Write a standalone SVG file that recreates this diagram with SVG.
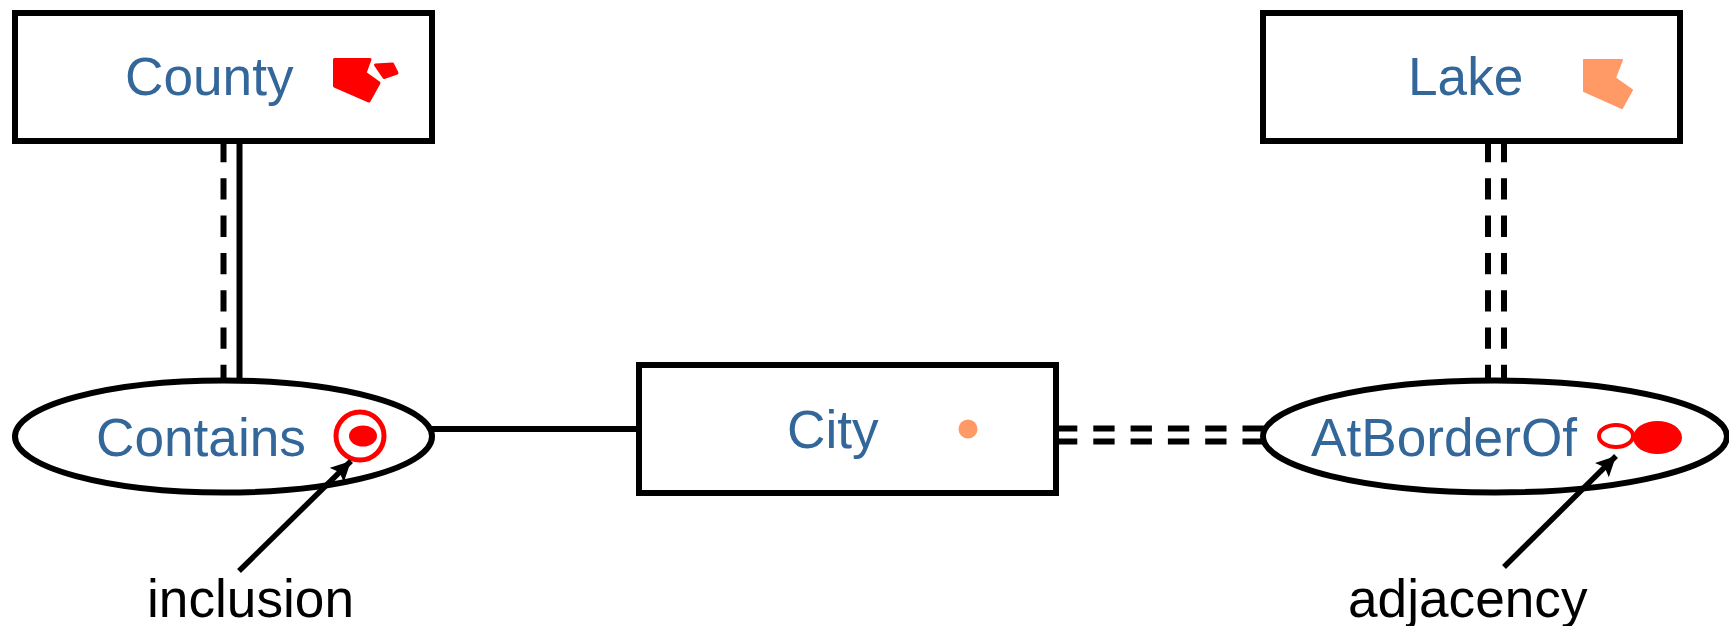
<svg xmlns="http://www.w3.org/2000/svg" width="1729" height="626" viewBox="0 0 1729 626">
<style>
.box{fill:#fff;stroke:#000;stroke-width:6}
.lbl{font-family:"Liberation Sans",Arial,sans-serif;font-size:53.200px;fill:#336699}
.cap{font-family:"Liberation Sans",Arial,sans-serif;font-size:53.200px;fill:#000}
.ln{stroke:#000;stroke-width:6;fill:none}
.arr{stroke:#000;stroke-width:5.500;fill:none}
.dash{stroke-dasharray:21.3 16}
.red{fill:#f00;stroke:#f00;stroke-width:3;stroke-linejoin:round}
.or{fill:#ff9966;stroke:#ff9966;stroke-width:2;stroke-linejoin:round}
</style>
<defs>
<marker id="ah" markerUnits="userSpaceOnUse" markerWidth="24" markerHeight="24" refX="20" refY="10" orient="auto"><path d="M0 0L20 10L0 20L4 10Z" fill="#000"/></marker>
</defs>
<g id="connectors">
<line class="ln dash" x1="223.500" y1="141" x2="223.500" y2="381"/>
<line class="ln" x1="239.500" y1="141" x2="239.500" y2="381"/>
<line class="ln dash" x1="1488" y1="141" x2="1488" y2="381"/>
<line class="ln dash" x1="1504" y1="141" x2="1504" y2="381"/>
<line class="ln" x1="432" y1="429" x2="639" y2="429"/>
<line class="ln dash" x1="1056" y1="428.500" x2="1265" y2="428.500"/>
<line class="ln dash" x1="1056" y1="441.500" x2="1265" y2="441.500"/>
</g>
<g id="county">
<rect class="box" x="15" y="13" width="417" height="128"/>
<text class="lbl" x="125" y="95">County</text>
<path class="red" d="M334.500 59.500H370L365 73L379 83L369 101L334.500 86Z"/>
<path class="red" d="M375.500 65L392.500 64L397 73L384 77.500Z"/>
</g>
<g id="lake">
<rect class="box" x="1263" y="13" width="417" height="128"/>
<text class="lbl" x="1408" y="95">Lake</text>
<path class="or" d="M1584 60H1622L1615 78L1632 90L1622 108L1584 91Z"/>
</g>
<g id="city">
<rect class="box" x="639" y="365" width="417" height="128"/>
<text class="lbl" x="787" y="448">City</text>
<circle cx="968" cy="429" r="9.500" fill="#ff9966"/>
</g>
<g id="contains">
<ellipse class="box" cx="223.500" cy="436.500" rx="208.500" ry="56"/>
<text class="lbl" x="96" y="456">Contains</text>
<circle cx="360" cy="436" r="24" fill="none" stroke="#f00" stroke-width="5"/>
<ellipse cx="363" cy="436" rx="14" ry="10.500" fill="#f00"/>
</g>
<g id="atborderof">
<ellipse class="box" cx="1495" cy="436.500" rx="232" ry="56"/>
<text class="lbl" x="1311" y="456">AtBorderOf</text>
<ellipse cx="1657.500" cy="437.500" rx="24.500" ry="16.500" fill="#f00"/>
<ellipse cx="1616" cy="436" rx="17" ry="11" fill="#fff" stroke="#f00" stroke-width="4"/>
</g>
<g id="annotations">
<line class="arr" x1="239" y1="571" x2="351" y2="461" marker-end="url(#ah)"/>
<line class="arr" x1="1504" y1="567" x2="1616" y2="456" marker-end="url(#ah)"/>
<text class="cap" x="147" y="617">inclusion</text>
<text class="cap" x="1348" y="617">adjacency</text>
</g>
</svg>
